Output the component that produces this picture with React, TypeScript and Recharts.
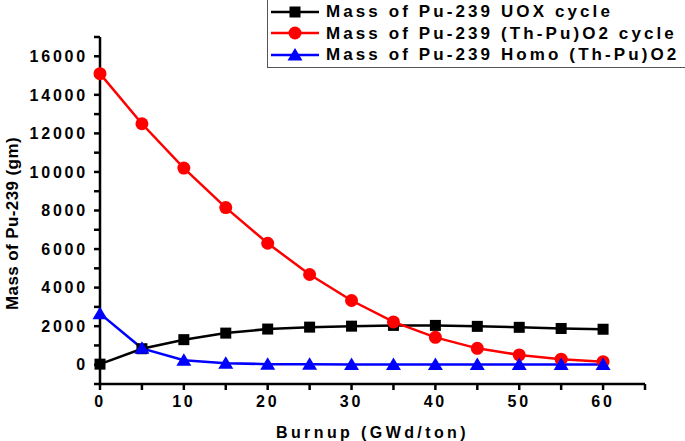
import { LineChart, Line, XAxis, YAxis, Label } from "recharts";

const burnup = [0, 5, 10, 15, 20, 25, 30, 35, 40, 45, 50, 55, 60];
const uoxMass = [30, 830, 1300, 1640, 1850, 1950, 2000, 2040, 2040, 1990, 1940, 1880, 1840];
const thPuMass = [15100, 12500, 10200, 8150, 6300, 4680, 3330, 2220, 1420, 850, 510, 290, 160];
const homoMass = [2650, 850, 230, 80, 30, 20, 10, 10, 10, 10, 10, 10, 10];

const xTicks = [0, 5, 10, 15, 20, 25, 30, 35, 40, 45, 50, 55, 60, 65];
const yTicks = [-1000, 0, 1000, 2000, 3000, 4000, 5000, 6000, 7000, 8000, 9000, 10000, 11000, 12000, 13000, 14000, 15000, 16000, 17000];

const seriesNames = [
  "Mass of Pu-239 UOX cycle",
  "Mass of Pu-239 (Th-Pu)O2 cycle",
  "Mass of Pu-239 Homo (Th-Pu)O2",
];
const seriesColors = ["#000000", "#ff0000", "#0000ff"];

const data = burnup.map((b, i) => ({
  burnup: b,
  uox: uoxMass[i],
  thpu: thPuMass[i],
  homo: homoMass[i],
}));

const FONT = "'Liberation Sans', Arial, sans-serif";

const Square = (props: any) => {
  const { cx, cy } = props;
  return <rect x={cx - 5.5} y={cy - 5.5} width={11} height={11} fill="#000" />;
};
const Circle = (props: any) => {
  const { cx, cy } = props;
  return <circle cx={cx} cy={cy} r={6.5} fill="#ff0000" />;
};
const Triangle = (props: any) => {
  const { cx, cy } = props;
  return <path d={`M${cx},${cy - 7} L${cx + 7.5},${cy + 5.5} L${cx - 7.5},${cy + 5.5} Z`} fill="#0000ff" />;
};

const markers = [
  (c: string) => <rect x={-5.5} y={-5.5} width={11} height={11} fill={c} />,
  (c: string) => <circle r={6.5} fill={c} />,
  (c: string) => <path d="M0,-7 L7.5,5.5 L-7.5,5.5 Z" fill={c} />,
];

function LegendBox() {
  return (
    <div
      style={{
        position: "absolute",
        left: 267,
        top: -1,
        width: 414,
        height: 66,
        border: "1.5px solid #555",
        background: "#fff",
        padding: "1px 0 0 3px",
        fontFamily: FONT,
        fontWeight: "bold",
        fontSize: 17,
        letterSpacing: 3.1,
        lineHeight: "21.5px",
      }}
    >
      {seriesNames.map((n, i) => (
        <div key={n} style={{ display: "flex", alignItems: "center", whiteSpace: "nowrap", height: 21.5 }}>
          <svg width={48} height={20} style={{ marginRight: 7 }}>
            <line x1={0} y1={10} x2={48} y2={10} stroke={seriesColors[i]} strokeWidth={2.5} />
            <g transform="translate(24,10)">{markers[i](seriesColors[i])}</g>
          </svg>
          {n}
        </div>
      ))}
    </div>
  );
}

const tickStyle = { fill: "#000", fontSize: 16, fontWeight: "bold", fontFamily: FONT, letterSpacing: 2.8 };

const YTitle = (props: any) => {
  const vb = props.viewBox || {};
  const cy = vb.y + vb.height / 2 + 13;
  return (
    <text
      x={18}
      y={cy}
      transform={`rotate(-90, 18, ${cy})`}
      textAnchor="middle"
      style={{ fill: "#000", fontSize: 17, fontWeight: "bold", fontFamily: FONT, letterSpacing: 0.4 }}
    >
      Mass of Pu-239 (gm)
    </text>
  );
};

export default function App() {
  return (
    <div style={{ position: "absolute", left: 0, top: 0, width: 685, height: 441, background: "#fff" }}>
      <LineChart width={685} height={441} data={data} margin={{ top: 37, right: 40, bottom: 0, left: 10 }}>
        <XAxis
          dataKey="burnup"
          type="number"
          domain={[0, 65]}
          ticks={xTicks}
          interval={0}
          tickFormatter={(v: number) => (v % 10 === 0 ? String(v) : "")}
          tick={tickStyle}
          tickSize={6}
          tickMargin={6}
          axisLine={{ stroke: "#000", strokeWidth: 2.5 }}
          tickLine={{ stroke: "#000", strokeWidth: 2.5 }}
          height={57}
        >
          <Label
            value="Burnup (GWd/ton)"
            position="insideBottom"
            offset={3}
            style={{ fill: "#000", fontSize: 16, fontWeight: "bold", fontFamily: FONT, letterSpacing: 3.4 }}
          />
        </XAxis>
        <YAxis
          type="number"
          domain={[-1000, 17000]}
          ticks={yTicks}
          interval={0}
          tickFormatter={(v: number) => (v >= 0 && v % 2000 === 0 ? String(v) : "")}
          tick={tickStyle}
          tickSize={6}
          tickMargin={6}
          axisLine={{ stroke: "#000", strokeWidth: 2.5 }}
          tickLine={{ stroke: "#000", strokeWidth: 2.5 }}
          width={90}
        >
          <Label content={<YTitle />} />
        </YAxis>
        <Line dataKey="uox" name={seriesNames[0]} stroke="#000" strokeWidth={2.5} dot={<Square />} isAnimationActive={false} />
        <Line dataKey="thpu" name={seriesNames[1]} stroke="#ff0000" strokeWidth={2.5} dot={<Circle />} isAnimationActive={false} />
        <Line dataKey="homo" name={seriesNames[2]} stroke="#0000ff" strokeWidth={2.5} dot={<Triangle />} isAnimationActive={false} />
      </LineChart>
      <LegendBox />
    </div>
  );
}
